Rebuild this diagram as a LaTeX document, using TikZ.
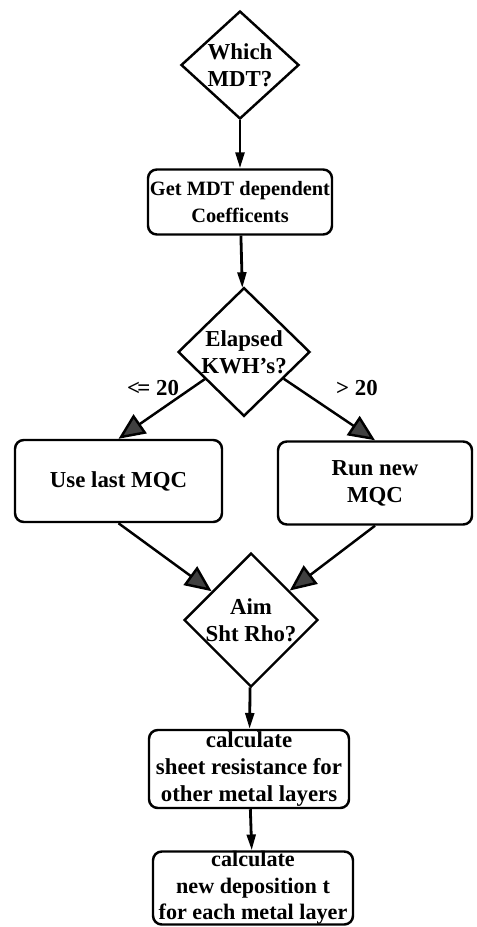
\documentclass[tikz,border=0pt]{standalone}
\usepackage{fontspec}
\setmainfont{Liberation Serif}
\usepackage{tikz}
\usetikzlibrary{calc, positioning, arrows.meta, shapes.geometric}

\tikzset{
  proc/.style={rectangle, draw, rounded corners=5pt, line width=1.4pt, align=center, inner sep=1pt},
  decide/.style={diamond, draw, line width=1.4pt, align=center, inner sep=0pt},
  flow/.style={-{Triangle[length=9pt,width=5pt]}, line width=1.6pt},
  branch/.style={-{Triangle[length=15pt,width=13pt,fill=black!75]}, line width=1.4pt}
}

\begin{document}
\begin{tikzpicture}
              [node distance=1.5cm, font=\bfseries\fontsize{13}{15.4}\selectfont]
              \useasboundingbox (0,0) rectangle (9.52,-18.54);
              % nodes %
              \node[decide, minimum width=2.36cm, minimum height=2.1cm] (mdt) at (4.8,-1.3) {Which\\MDT?};
              \node[proc, minimum width=3.68cm, minimum height=1.3cm, font=\bfseries\fontsize{11.6}{15}\selectfont] (coef) at (4.8,-4.04) {Get MDT dependent\\Coefficents};
              \node[decide, minimum width=2.64cm, minimum height=2.4cm] (kwh) at (4.88,-7.04) {Elapsed\\KWH's?};
              \node[proc, minimum width=4.14cm, minimum height=1.64cm] (last) at (2.37,-9.62) {Use last MQC};
              \node[proc, minimum width=3.88cm, minimum height=1.66cm] (run) at (7.5,-9.66) {Run new\\MQC};
              \node[decide, minimum width=2.6cm, minimum height=2.56cm] (aim) at (5.02,-12.4) {Aim\\Sht Rho?};
              \node[proc, minimum width=4cm, minimum height=1.56cm, inner sep=0pt] (sheet) at (4.98,-15.38) {calculate\\sheet resistance for\\other metal layers};
              \node[proc, minimum width=4cm, minimum height=1.46cm, inner sep=0pt, font=\bfseries\fontsize{12.6}{15}\selectfont] (depo) at (5.06,-17.76) {calculate\\new deposition t\\for each metal layer};
              \node (le) at (3.06,-7.76) {<\kern-.12em= 20};
              \node (gt) at (7.14,-7.76) {> 20};

              % edges %
              \draw[flow] (mdt) -- (coef);
              \draw[flow] (coef) -- (kwh);
              \draw[branch] (kwh) -- (last.north);
              \draw[branch] (kwh) -- (run.north);
              \draw[branch] (last.south) -- (aim);
              \draw[branch] (run.south) -- (aim);
              \draw[flow] (aim) -- (sheet);
              \draw[flow] (sheet) -- (depo);
            \end{tikzpicture}
\end{document}
